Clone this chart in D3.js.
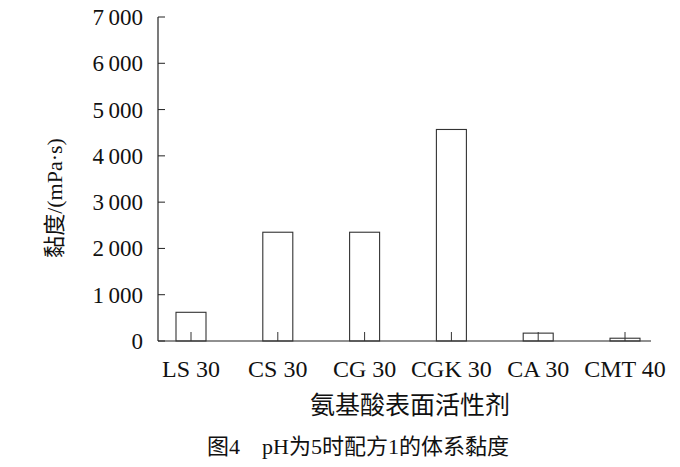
<!DOCTYPE html><html><head><meta charset="utf-8"><script src="https://cdn.jsdelivr.net/npm/d3@7"></script>
<style>body{margin:0;background:#fff}text{font-family:"Liberation Serif","Noto Sans CJK SC",serif;fill:#111}</style></head><body>
<svg id="c" width="680" height="467"></svg>
<script>
const categories=["LS 30","CS 30","CG 30","CGK 30","CA 30","CMT 40"];
const values=[620,2350,2350,4570,170,60];
const yTicks=[0,1000,2000,3000,4000,5000,6000,7000];
const svg=d3.select("#c");
const x=d3.scalePoint().domain(categories).range([191,625]);
const y=d3.scaleLinear().domain([0,7000]).range([341,17]);
const fmt=v=>v>=1000?Math.floor(v/1000)+"\u2009"+String(v%1000).padStart(3,"0"):String(v);
const g=svg.append("g");
g.append("line").attr("x1",158).attr("x2",158).attr("y1",y(0)).attr("y2",y(7000)).attr("stroke","#222").attr("stroke-width",1.2);
g.append("line").attr("x1",158).attr("x2",651).attr("y1",y(0)).attr("y2",y(0)).attr("stroke","#222").attr("stroke-width",1.2);
yTicks.forEach(t=>{
 g.append("line").attr("x1",158).attr("x2",165).attr("y1",y(t)).attr("y2",y(t)).attr("stroke","#222");
 g.append("text").attr("x",143).attr("y",y(t)+8).attr("text-anchor","end").attr("font-size",23).text(fmt(t));
});
categories.forEach((c,i)=>{
 g.append("rect").attr("x",x(c)-15).attr("width",30).attr("y",y(values[i])).attr("height",y(0)-y(values[i])).attr("fill","none").attr("stroke","#333").attr("stroke-width",1.1);
 g.append("line").attr("x1",x(c)).attr("x2",x(c)).attr("y1",y(0)).attr("y2",y(0)-9).attr("stroke","#333");
 g.append("text").attr("x",x(c)).attr("y",377).attr("text-anchor","middle").attr("font-size",24).text(c);
});
svg.append("text").attr("x",410).attr("y",414).attr("text-anchor","middle").attr("font-size",25).text("氨基酸表面活性剂");
svg.append("text").attr("transform","translate(62,198) rotate(-90)").attr("text-anchor","middle").attr("font-size",22).text("黏度/(mPa·s)");
svg.append("text").attr("x",358).attr("y",454).attr("text-anchor","middle").attr("font-size",22).attr("xml:space","preserve").text("图4    pH为5时配方1的体系黏度");
</script></body></html>
